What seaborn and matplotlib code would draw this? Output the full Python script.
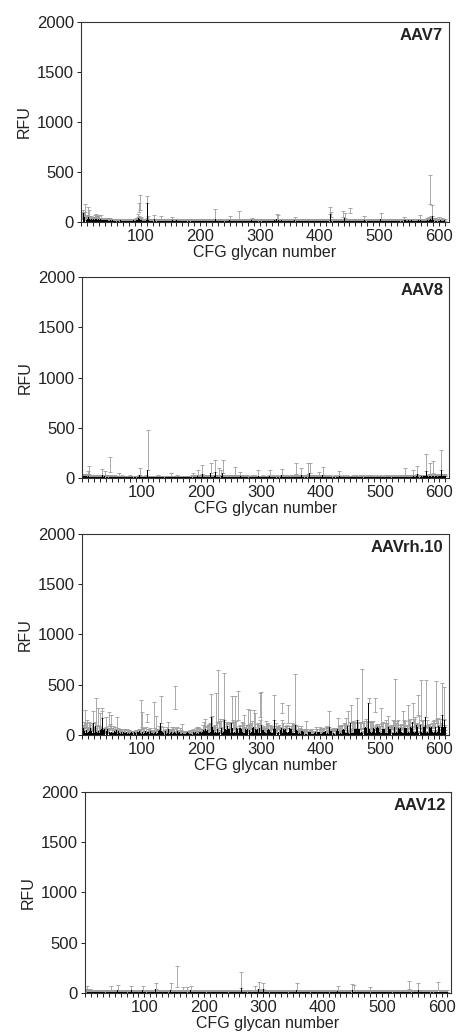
import numpy as np
import pandas as pd
import seaborn as sns
import matplotlib.pyplot as plt
from matplotlib.ticker import MultipleLocator, FixedLocator

# --------------------------------------------------
# Data: mean RFU and SD for CFG glycans 1-610 (30 per line)
# --------------------------------------------------
aav7_mean = [
    35, 60, 45, 90, 40, 55, 70, 30, 25, 40, 35, 60, 50, 30, 25, 20, 35, 30, 25, 20, 30, 25, 20, 35, 40, 30, 25, 20, 30, 35,
    25, 20, 30, 25, 20, 15, 20, 25, 20, 15, 18, 12, 15, 20, 14, 10, 16, 12, 18, 14, 10, 12, 15, 11, 9, 14, 12, 10, 15, 12,
    10, 14, 12, 9, 11, 15, 12, 10, 8, 13, 11, 9, 12, 14, 10, 8, 11, 13, 9, 12, 10, 14, 11, 9, 12, 10, 13, 15, 11, 9,
    12, 15, 18, 20, 25, 40, 100, 30, 120, 25, 20, 15, 12, 14, 10, 12, 15, 11, 13, 20, 190, 30, 15, 12, 10, 13, 11, 9, 12, 10,
    11, 13, 30, 10, 12, 9, 14, 11, 10, 12, 9, 13, 11, 25, 10, 12, 14, 9, 11, 13, 10, 8, 12, 11, 9, 13, 10, 12, 14, 11,
    10, 12, 20, 14, 11, 9, 13, 10, 12, 15, 11, 9, 10, 13, 12, 8, 11, 14, 10, 12, 9, 11, 13, 10, 8, 12, 11, 9, 13, 10,
    12, 9, 11, 14, 10, 13, 8, 12, 11, 10, 9, 13, 12, 10, 11, 14, 9, 12, 10, 13, 11, 8, 12, 10, 14, 11, 9, 13, 10, 12,
    11, 10, 13, 9, 12, 14, 10, 11, 12, 9, 13, 10, 11, 12, 30, 10, 9, 13, 11, 12, 10, 14, 9, 11, 13, 10, 12, 8, 11, 10,
    12, 9, 11, 13, 10, 12, 14, 9, 20, 11, 10, 13, 12, 9, 11, 10, 14, 12, 8, 11, 13, 10, 12, 9, 30, 11, 10, 12, 13, 9,
    11, 10, 12, 9, 13, 11, 10, 12, 14, 9, 11, 13, 10, 12, 9, 15, 11, 10, 13, 12, 9, 11, 14, 10, 12, 11, 9, 13, 10, 12,
    13, 11, 10, 12, 14, 9, 11, 13, 10, 12, 11, 9, 14, 12, 10, 13, 11, 12, 9, 15, 12, 14, 11, 16, 13, 12, 15, 30, 14, 12,
    25, 13, 14, 11, 12, 15, 10, 13, 12, 11, 14, 10, 12, 13, 11, 9, 12, 14, 10, 11, 13, 12, 10, 11, 14, 12, 10, 20, 11, 13,
    10, 12, 11, 13, 9, 12, 10, 14, 11, 12, 10, 13, 9, 11, 12, 10, 14, 11, 9, 12, 13, 10, 11, 12, 9, 14, 10, 12, 11, 13,
    11, 9, 12, 10, 13, 11, 12, 10, 14, 9, 11, 13, 10, 12, 11, 9, 13, 12, 10, 11, 14, 10, 12, 9, 11, 13, 12, 80, 50, 12,
    15, 12, 10, 13, 11, 14, 12, 10, 11, 13, 9, 12, 10, 14, 11, 12, 13, 10, 50, 12, 11, 40, 13, 10, 12, 11, 14, 9, 12, 10,
    90, 12, 10, 13, 11, 9, 12, 14, 10, 11, 13, 12, 9, 11, 10, 14, 12, 11, 13, 10, 12, 9, 11, 13, 20, 12, 10, 14, 11, 12,
    10, 13, 11, 12, 9, 14, 11, 10, 12, 13, 11, 10, 12, 14, 9, 11, 13, 10, 12, 11, 14, 30, 12, 10, 11, 13, 12, 9, 11, 14,
    12, 10, 13, 11, 9, 12, 14, 10, 11, 13, 12, 10, 11, 14, 12, 9, 13, 11, 10, 12, 14, 11, 13, 10, 12, 15, 11, 13, 12, 14,
    13, 20, 12, 15, 11, 14, 13, 12, 16, 11, 14, 12, 13, 15, 12, 11, 14, 13, 12, 15, 11, 14, 16, 12, 13, 15, 12, 14, 25, 13,
    14, 12, 15, 13, 16, 12, 14, 15, 13, 18, 15, 14, 20, 25, 180, 30, 18, 15, 60, 20, 16, 14, 15, 13, 17, 14, 12, 15, 13, 20,
    14, 12, 15, 13, 15, 12, 14, 13, 15, 12,
]
aav7_sd = [
    30, 40, 35, 30, 60, 50, 110, 40, 30, 35, 30, 90, 70, 30, 25, 20, 30, 25, 20, 20, 25, 30, 20, 40, 45, 30, 25, 20, 30, 35,
    20, 25, 40, 20, 20, 15, 20, 20, 15, 15, 20, 15, 18, 22, 15, 12, 20, 15, 22, 16, 12, 15, 18, 12, 10, 16, 14, 12, 18, 14,
    12, 16, 14, 10, 12, 18, 14, 12, 10, 15, 12, 10, 14, 16, 12, 10, 13, 15, 10, 14, 12, 16, 13, 10, 14, 12, 15, 18, 13, 10,
    14, 18, 20, 22, 25, 40, 90, 30, 150, 30, 25, 18, 14, 16, 12, 14, 18, 13, 15, 22, 70, 30, 18, 14, 12, 15, 13, 10, 14, 12,
    13, 15, 40, 12, 14, 10, 16, 13, 12, 14, 10, 15, 13, 35, 12, 14, 16, 10, 13, 15, 12, 10, 14, 13, 10, 15, 12, 14, 16, 13,
    12, 14, 30, 16, 13, 10, 15, 12, 14, 17, 13, 10, 12, 15, 14, 10, 13, 16, 12, 14, 10, 13, 15, 12, 10, 14, 13, 10, 15, 12,
    14, 10, 13, 16, 12, 15, 10, 14, 13, 12, 10, 15, 14, 12, 13, 16, 10, 14, 12, 15, 13, 10, 14, 12, 16, 13, 10, 15, 12, 14,
    13, 12, 15, 10, 14, 16, 12, 13, 14, 10, 15, 12, 13, 14, 97, 12, 10, 15, 13, 14, 12, 16, 10, 13, 15, 12, 14, 10, 13, 12,
    14, 10, 13, 15, 12, 14, 16, 10, 40, 13, 12, 15, 14, 10, 13, 12, 16, 14, 10, 13, 15, 12, 14, 10, 80, 13, 12, 14, 15, 10,
    13, 12, 14, 10, 15, 13, 12, 14, 16, 10, 13, 15, 12, 14, 10, 25, 13, 12, 15, 14, 10, 13, 16, 12, 14, 13, 10, 15, 12, 14,
    15, 13, 12, 14, 16, 10, 13, 15, 12, 14, 13, 10, 16, 14, 12, 15, 13, 14, 10, 17, 14, 16, 13, 18, 15, 14, 17, 47, 16, 14,
    45, 15, 16, 13, 14, 17, 12, 15, 14, 13, 16, 12, 14, 15, 13, 10, 14, 16, 12, 13, 15, 14, 12, 13, 16, 14, 12, 33, 13, 15,
    12, 14, 13, 15, 10, 14, 12, 16, 13, 14, 12, 15, 10, 13, 14, 12, 16, 13, 10, 14, 15, 12, 13, 14, 10, 16, 12, 14, 13, 15,
    13, 10, 14, 12, 15, 13, 14, 12, 16, 10, 13, 15, 12, 14, 13, 10, 15, 14, 12, 13, 16, 12, 14, 10, 13, 15, 14, 67, 53, 14,
    17, 14, 12, 15, 13, 16, 14, 12, 13, 15, 10, 14, 12, 16, 13, 14, 15, 12, 60, 14, 13, 47, 15, 12, 14, 13, 16, 10, 14, 12,
    47, 14, 12, 15, 13, 10, 14, 16, 12, 13, 15, 14, 10, 13, 12, 16, 14, 13, 15, 12, 14, 10, 13, 15, 40, 14, 12, 16, 13, 14,
    12, 15, 13, 14, 10, 16, 13, 12, 14, 15, 13, 12, 14, 16, 10, 13, 15, 12, 14, 13, 16, 63, 14, 12, 13, 15, 14, 10, 13, 16,
    14, 12, 15, 13, 10, 14, 16, 12, 13, 15, 14, 12, 13, 16, 14, 10, 15, 13, 12, 14, 16, 13, 15, 12, 14, 17, 13, 15, 14, 16,
    15, 33, 14, 17, 13, 16, 15, 14, 18, 13, 16, 14, 15, 17, 14, 13, 16, 15, 14, 17, 13, 16, 18, 14, 15, 17, 14, 16, 45, 15,
    16, 14, 17, 15, 18, 14, 16, 17, 15, 20, 17, 16, 22, 25, 290, 30, 20, 17, 110, 22, 18, 16, 17, 15, 19, 16, 14, 17, 15, 30,
    16, 14, 17, 15, 25, 14, 16, 15, 17, 14,
]

aav8_mean = [
    18, 15, 20, 16, 14, 18, 15, 17, 14, 25, 16, 40, 15, 13, 16, 14, 12, 15, 13, 14, 12, 15, 11, 13, 14, 12, 10, 13, 12, 11,
    12, 14, 11, 30, 13, 12, 14, 25, 12, 11, 13, 10, 12, 14, 11, 13, 60, 12, 10, 13, 11, 12, 9, 11, 13, 10, 12, 11, 9, 12,
    10, 15, 9, 11, 12, 10, 13, 9, 11, 10, 12, 8, 11, 10, 9, 12, 10, 11, 9, 13, 10, 8, 11, 12, 9, 10, 11, 9, 12, 10,
    11, 9, 12, 10, 11, 13, 30, 10, 9, 12, 11, 10, 12, 9, 11, 10, 13, 11, 12, 80, 12, 10, 9, 11, 12, 10, 9, 11, 10, 12,
    9, 11, 10, 12, 9, 11, 10, 13, 9, 10, 12, 11, 9, 10, 12, 11, 10, 9, 12, 10, 11, 9, 10, 12, 11, 9, 10, 11, 15, 10,
    10, 12, 9, 11, 10, 12, 9, 11, 10, 13, 11, 9, 10, 12, 11, 10, 9, 12, 10, 11, 12, 9, 11, 10, 12, 10, 11, 9, 12, 11,
    10, 12, 11, 13, 12, 20, 11, 13, 12, 10, 14, 12, 11, 25, 13, 12, 14, 11, 13, 12, 14, 40, 13, 12, 15, 13, 12, 14, 11, 13,
    13, 12, 15, 14, 12, 50, 14, 13, 15, 12, 14, 16, 13, 60, 15, 14, 13, 16, 14, 30, 15, 13, 25, 16, 14, 50, 15, 13, 14, 12,
    14, 13, 15, 12, 14, 13, 16, 12, 14, 13, 15, 14, 12, 13, 15, 14, 30, 13, 12, 14, 13, 15, 12, 14, 13, 20, 12, 14, 13, 12,
    11, 13, 12, 10, 12, 11, 13, 10, 12, 11, 9, 12, 11, 10, 13, 11, 12, 10, 11, 13, 10, 12, 11, 10, 12, 25, 11, 12, 10, 11,
    12, 10, 11, 13, 10, 12, 11, 9, 12, 11, 10, 12, 11, 13, 25, 11, 10, 12, 11, 13, 10, 12, 11, 10, 12, 11, 13, 10, 11, 12,
    11, 12, 10, 13, 30, 12, 11, 13, 12, 10, 11, 13, 12, 11, 10, 12, 13, 11, 12, 10, 13, 12, 11, 12, 13, 11, 12, 13, 40, 12,
    13, 12, 11, 13, 12, 14, 13, 30, 12, 13, 11, 14, 12, 13, 12, 14, 13, 12, 40, 13, 14, 50, 13, 12, 14, 13, 12, 11, 13, 12,
    12, 11, 13, 12, 11, 13, 12, 20, 11, 12, 13, 11, 12, 35, 12, 11, 13, 12, 10, 12, 11, 13, 12, 10, 11, 12, 13, 11, 10, 12,
    11, 12, 10, 11, 13, 12, 10, 11, 12, 11, 13, 20, 11, 12, 10, 12, 11, 13, 10, 12, 11, 10, 12, 11, 13, 10, 12, 11, 10, 12,
    11, 10, 12, 11, 13, 10, 12, 11, 10, 13, 12, 11, 10, 12, 11, 13, 12, 10, 11, 12, 10, 13, 11, 12, 10, 11, 12, 13, 10, 11,
    12, 11, 10, 13, 11, 12, 10, 11, 13, 12, 11, 10, 12, 11, 13, 10, 12, 11, 12, 10, 11, 13, 12, 10, 11, 12, 10, 13, 11, 12,
    11, 12, 10, 13, 12, 11, 10, 12, 13, 11, 12, 10, 11, 13, 12, 11, 12, 10, 13, 12, 11, 12, 13, 11, 12, 14, 12, 13, 12, 14,
    13, 30, 12, 14, 13, 15, 12, 14, 13, 15, 14, 12, 15, 13, 14, 25, 13, 15, 14, 13, 16, 14, 40, 15, 13, 16, 14, 15, 13, 16,
    15, 14, 16, 15, 17, 14, 16, 70, 15, 17, 16, 14, 18, 40, 16, 17, 15, 18, 50, 16, 17, 15, 18, 16, 19, 17, 15, 18, 16, 17,
    18, 16, 80, 17, 19, 16, 18, 17, 20, 16,
]
aav8_sd = [
    20, 18, 22, 18, 15, 20, 17, 18, 16, 48, 18, 83, 16, 14, 17, 15, 13, 16, 14, 15, 13, 16, 12, 14, 15, 13, 11, 14, 13, 12,
    13, 15, 12, 60, 14, 13, 15, 48, 13, 12, 14, 11, 13, 15, 12, 14, 153, 13, 11, 14, 12, 13, 10, 12, 14, 11, 13, 12, 10, 13,
    11, 32, 10, 12, 13, 11, 14, 10, 12, 11, 13, 9, 12, 11, 10, 13, 11, 12, 10, 14, 11, 9, 12, 13, 10, 11, 12, 10, 13, 11,
    12, 10, 13, 11, 12, 14, 67, 11, 10, 13, 12, 11, 13, 10, 12, 11, 14, 12, 13, 400, 13, 11, 10, 12, 13, 11, 10, 12, 11, 13,
    10, 12, 11, 13, 10, 12, 11, 14, 10, 11, 13, 12, 10, 11, 13, 12, 11, 10, 13, 11, 12, 10, 11, 13, 12, 10, 11, 12, 32, 11,
    11, 13, 10, 12, 11, 13, 10, 12, 11, 14, 12, 10, 11, 13, 12, 11, 10, 13, 11, 12, 13, 10, 12, 11, 13, 11, 12, 10, 13, 12,
    11, 13, 12, 14, 13, 33, 12, 14, 13, 11, 15, 13, 12, 55, 14, 13, 15, 12, 14, 13, 15, 90, 14, 13, 16, 14, 13, 15, 12, 14,
    14, 13, 16, 15, 13, 97, 15, 14, 16, 13, 15, 17, 14, 120, 16, 15, 14, 17, 15, 67, 16, 14, 55, 17, 15, 130, 16, 14, 15, 13,
    15, 14, 16, 13, 15, 14, 17, 13, 15, 14, 16, 15, 13, 14, 16, 15, 83, 14, 13, 15, 14, 16, 13, 15, 14, 43, 13, 15, 14, 13,
    12, 14, 13, 11, 13, 12, 14, 11, 13, 12, 10, 13, 12, 11, 14, 12, 13, 11, 12, 14, 11, 13, 12, 11, 13, 55, 12, 13, 11, 12,
    13, 11, 12, 14, 11, 13, 12, 10, 13, 12, 11, 13, 12, 14, 55, 12, 11, 13, 12, 14, 11, 13, 12, 11, 13, 12, 14, 11, 12, 13,
    12, 13, 11, 14, 57, 13, 12, 14, 13, 11, 12, 14, 13, 12, 11, 13, 14, 12, 13, 11, 14, 13, 12, 13, 14, 12, 13, 14, 107, 13,
    14, 13, 12, 14, 13, 15, 14, 67, 13, 14, 12, 15, 13, 14, 13, 15, 14, 13, 107, 14, 15, 103, 14, 13, 15, 14, 13, 12, 14, 13,
    13, 12, 14, 13, 12, 14, 13, 43, 12, 13, 14, 12, 13, 72, 13, 12, 14, 13, 11, 13, 12, 14, 13, 11, 12, 13, 14, 12, 11, 13,
    12, 13, 11, 12, 14, 13, 11, 12, 13, 12, 14, 53, 12, 13, 11, 13, 12, 14, 11, 13, 12, 11, 13, 12, 14, 11, 13, 12, 11, 13,
    12, 11, 13, 12, 14, 11, 13, 12, 11, 14, 13, 12, 11, 13, 12, 14, 13, 11, 12, 13, 11, 14, 12, 13, 11, 12, 13, 14, 11, 12,
    13, 12, 11, 14, 12, 13, 11, 12, 14, 13, 12, 11, 13, 12, 14, 11, 13, 12, 13, 11, 12, 14, 13, 11, 12, 13, 11, 14, 12, 13,
    12, 13, 11, 14, 13, 12, 11, 13, 14, 12, 13, 11, 12, 14, 13, 12, 13, 11, 14, 13, 12, 13, 14, 12, 13, 15, 13, 14, 13, 15,
    14, 67, 13, 15, 14, 16, 13, 15, 14, 16, 15, 13, 16, 14, 15, 55, 14, 16, 15, 14, 17, 15, 80, 16, 14, 17, 15, 16, 14, 17,
    16, 15, 17, 16, 18, 15, 17, 170, 16, 18, 17, 15, 19, 107, 17, 18, 16, 19, 123, 17, 18, 16, 19, 17, 20, 18, 16, 19, 17, 18,
    19, 17, 200, 18, 20, 17, 19, 18, 21, 17,
]

aavrh10_mean = [
    60, 25, 70, 35, 80, 15, 65, 50, 20, 60, 30, 55, 40, 70, 15, 35, 60, 20, 120, 55, 15, 65, 90, 30, 45, 20, 100, 40, 15, 70,
    45, 20, 60, 167, 15, 50, 25, 60, 15, 80, 40, 15, 55, 20, 90, 25, 60, 15, 70, 30, 15, 45, 20, 10, 40, 25, 15, 50, 20, 10,
    35, 10, 20, 30, 8, 25, 20, 10, 15, 25, 20, 8, 22, 10, 25, 12, 8, 20, 30, 10, 22, 8, 25, 12, 20, 10, 15, 25, 10, 18,
    22, 10, 25, 8, 30, 15, 35, 20, 60, 10, 80, 25, 10, 35, 15, 8, 40, 15, 133, 25, 10, 30, 12, 25, 35, 10, 22, 15, 25, 10,
    70, 15, 25, 60, 10, 40, 15, 35, 10, 45, 20, 117, 40, 10, 25, 35, 15, 30, 10, 40, 20, 10, 35, 15, 60, 25, 10, 30, 15, 30,
    35, 10, 40, 15, 25, 257, 20, 30, 10, 35, 15, 20, 8, 30, 12, 25, 10, 40, 15, 8, 22, 10, 25, 8, 22, 12, 25, 8, 18, 10,
    20, 8, 25, 10, 22, 12, 25, 8, 22, 15, 30, 10, 30, 15, 35, 10, 30, 15, 28, 40, 15, 30, 45, 50, 15, 35, 60, 20, 40, 15,
    45, 20, 50, 15, 55, 30, 183, 20, 80, 25, 45, 15, 55, 30, 100, 15, 60, 120, 20, 70, 25, 80, 15, 65, 30, 20, 80, 25, 150, 30,
    60, 20, 50, 90, 15, 55, 30, 60, 20, 55, 120, 25, 70, 15, 60, 30, 80, 15, 65, 25, 55, 150, 20, 70, 30, 65, 15, 60, 25, 55,
    20, 60, 15, 55, 25, 50, 15, 60, 100, 20, 50, 60, 15, 55, 25, 65, 15, 80, 30, 15, 60, 25, 50, 15, 55, 20, 60, 70, 180, 20,
    100, 25, 50, 15, 45, 25, 50, 15, 65, 20, 50, 25, 55, 15, 50, 30, 55, 15, 60, 20, 55, 25, 150, 15, 55, 20, 60, 15, 55, 25,
    55, 15, 50, 25, 70, 217, 20, 55, 30, 50, 15, 60, 25, 70, 15, 120, 25, 65, 15, 60, 20, 55, 15, 60, 20, 50, 15, 100, 20, 50,
    15, 40, 10, 45, 15, 30, 10, 40, 15, 35, 10, 30, 15, 25, 10, 40, 12, 25, 10, 30, 12, 25, 10, 25, 12, 28, 10, 25, 12, 20,
    10, 28, 30, 10, 25, 12, 28, 10, 30, 12, 30, 10, 28, 15, 25, 10, 30, 15, 35, 10, 40, 15, 30, 10, 80, 15, 35, 10, 40, 15,
    40, 15, 35, 10, 50, 15, 40, 10, 60, 15, 40, 10, 45, 15, 40, 10, 45, 15, 55, 10, 50, 15, 70, 15, 45, 90, 15, 45, 10, 60,
    120, 15, 60, 20, 65, 15, 60, 25, 55, 15, 60, 150, 20, 60, 25, 55, 15, 60, 25, 120, 15, 55, 30, 65, 15, 75, 20, 65, 15, 60,
    317, 20, 60, 25, 65, 15, 60, 30, 65, 15, 60, 230, 20, 70, 15, 75, 20, 65, 30, 55, 15, 90, 20, 55, 25, 60, 15, 55, 20, 70,
    15, 55, 20, 80, 25, 55, 15, 60, 25, 55, 15, 70, 20, 65, 80, 15, 55, 25, 65, 15, 70, 25, 60, 15, 70, 25, 60, 15, 70, 20,
    70, 20, 65, 30, 70, 15, 100, 25, 70, 15, 75, 30, 70, 20, 130, 25, 75, 15, 85, 30, 95, 15, 80, 200, 20, 90, 30, 95, 150, 25,
    70, 15, 75, 25, 80, 20, 180, 15, 75, 30, 80, 15, 75, 25, 70, 15, 80, 30, 70, 15, 75, 25, 80, 120, 15, 80, 25, 85, 20, 80,
    75, 20, 80, 25, 200, 15, 80, 150, 20, 80,
]
aavrh10_sd = [
    40, 25, 60, 35, 164, 20, 55, 100, 30, 15, 45, 70, 80, 25, 40, 10, 55, 30, 114, 20, 45, 60, 277, 15, 40, 25, 167, 50, 20, 150,
    30, 15, 207, 67, 40, 20, 45, 10, 40, 100, 25, 50, 15, 45, 134, 20, 50, 10, 130, 40, 15, 40, 25, 10, 40, 35, 15, 127, 25, 10,
    35, 10, 25, 30, 15, 35, 37, 10, 20, 35, 37, 15, 25, 10, 37, 20, 8, 30, 15, 28, 10, 25, 18, 30, 8, 20, 25, 10, 30, 15,
    28, 10, 25, 15, 28, 35, 10, 40, 284, 15, 147, 40, 10, 35, 20, 8, 40, 15, 74, 35, 10, 25, 28, 10, 35, 20, 8, 30, 15, 35,
    254, 20, 10, 130, 35, 15, 30, 10, 35, 45, 20, 273, 45, 15, 10, 40, 25, 15, 30, 10, 35, 20, 40, 15, 73, 10, 30, 15, 40, 20,
    40, 15, 40, 10, 30, 233, 20, 35, 10, 40, 15, 30, 10, 35, 20, 10, 35, 70, 15, 28, 10, 25, 15, 28, 10, 25, 15, 28, 10, 30,
    10, 37, 20, 10, 30, 15, 30, 10, 28, 20, 35, 10, 53, 20, 40, 10, 35, 20, 32, 15, 40, 20, 50, 83, 25, 40, 97, 20, 45, 15,
    50, 20, 55, 15, 60, 30, 221, 15, 110, 35, 20, 70, 25, 65, 317, 15, 65, 530, 30, 70, 20, 80, 25, 70, 35, 15, 80, 30, 470, 20,
    65, 25, 55, 40, 15, 60, 35, 65, 20, 60, 270, 25, 75, 15, 65, 40, 303, 20, 70, 30, 15, 283, 40, 20, 60, 35, 15, 65, 25, 60,
    20, 140, 50, 25, 70, 15, 50, 30, 160, 20, 55, 190, 15, 60, 30, 70, 20, 170, 40, 15, 157, 35, 55, 20, 60, 15, 40, 75, 237, 25,
    324, 30, 15, 60, 25, 65, 15, 40, 70, 20, 55, 25, 60, 15, 35, 70, 20, 55, 25, 50, 15, 65, 250, 20, 60, 30, 15, 55, 35, 70,
    25, 65, 15, 40, 75, 100, 20, 60, 35, 15, 70, 25, 60, 30, 15, 180, 40, 20, 55, 30, 15, 60, 25, 40, 15, 55, 30, 510, 20, 45,
    15, 45, 25, 10, 45, 35, 15, 45, 20, 10, 45, 25, 40, 10, 35, 103, 15, 30, 20, 10, 30, 25, 15, 30, 10, 32, 20, 10, 28, 15,
    10, 32, 53, 15, 30, 10, 32, 20, 53, 10, 35, 15, 32, 10, 30, 20, 35, 10, 40, 15, 45, 20, 35, 10, 154, 45, 15, 50, 20, 40,
    15, 50, 20, 45, 10, 50, 25, 40, 107, 15, 45, 20, 50, 10, 45, 25, 50, 15, 60, 20, 55, 15, 97, 30, 50, 144, 20, 50, 15, 65,
    180, 20, 65, 30, 70, 15, 65, 40, 60, 20, 65, 217, 25, 65, 35, 60, 15, 65, 40, 540, 20, 60, 35, 70, 15, 80, 30, 70, 20, 65,
    50, 30, 65, 15, 70, 40, 65, 20, 70, 35, 15, 137, 70, 25, 60, 35, 65, 15, 75, 30, 70, 177, 20, 60, 35, 65, 15, 60, 30, 75,
    25, 60, 15, 110, 65, 30, 75, 20, 70, 40, 15, 75, 30, 70, 480, 20, 60, 35, 70, 15, 75, 40, 20, 80, 35, 70, 15, 80, 164, 30,
    75, 25, 70, 40, 15, 80, 200, 30, 75, 20, 80, 45, 15, 95, 187, 30, 80, 20, 90, 40, 15, 90, 35, 200, 20, 95, 40, 15, 400, 30,
    70, 20, 75, 35, 15, 70, 370, 25, 75, 40, 15, 65, 30, 80, 20, 65, 35, 15, 70, 30, 75, 20, 40, 420, 25, 80, 15, 85, 35, 20,
    80, 25, 40, 70, 320, 15, 80, 330, 30, 20,
]

aav12_mean = [
    15, 12, 30, 14, 11, 13, 10, 12, 14, 11, 13, 10, 12, 9, 11, 13, 10, 12, 11, 9, 12, 10, 13, 11, 9, 12, 10, 11, 13, 10,
    12, 10, 11, 13, 9, 12, 10, 11, 13, 10, 12, 11, 9, 25, 12, 10, 13, 11, 12, 10, 11, 13, 10, 12, 30, 11, 10, 12, 9, 11,
    10, 12, 11, 9, 13, 10, 12, 11, 10, 13, 9, 11, 12, 10, 13, 11, 10, 25, 12, 11, 9, 13, 10, 12, 11, 10, 13, 9, 12, 11,
    12, 10, 11, 13, 9, 12, 25, 11, 10, 13, 12, 10, 11, 9, 13, 12, 10, 11, 12, 9, 13, 11, 10, 12, 11, 13, 10, 12, 35, 11,
    10, 12, 11, 13, 10, 12, 9, 11, 13, 10, 12, 11, 10, 13, 9, 12, 11, 10, 13, 12, 10, 11, 12, 30, 11, 10, 13, 12, 10, 11,
    12, 10, 13, 11, 60, 12, 10, 11, 13, 12, 10, 11, 13, 12, 20, 11, 13, 10, 12, 11, 13, 20, 12, 10, 13, 11, 12, 25, 10, 12,
    11, 10, 12, 9, 11, 10, 12, 11, 9, 10, 12, 11, 10, 9, 12, 11, 10, 12, 9, 11, 10, 12, 11, 9, 10, 12, 11, 10, 12, 9,
    11, 10, 12, 11, 9, 10, 12, 11, 10, 9, 11, 12, 10, 11, 9, 12, 10, 11, 12, 9, 10, 11, 12, 10, 9, 11, 10, 12, 11, 10,
    12, 11, 10, 9, 12, 11, 10, 12, 11, 9, 10, 12, 11, 10, 12, 11, 9, 12, 10, 11, 12, 10, 50, 11, 12, 10, 13, 11, 12, 10,
    13, 11, 12, 14, 10, 12, 13, 11, 14, 12, 13, 11, 14, 12, 13, 20, 12, 14, 11, 13, 12, 40, 13, 11, 14, 12, 13, 11, 12, 35,
    13, 12, 14, 11, 13, 12, 10, 14, 12, 13, 11, 12, 14, 10, 13, 12, 11, 14, 12, 13, 11, 12, 10, 13, 14, 12, 11, 13, 12, 10,
    12, 14, 11, 13, 12, 10, 13, 12, 14, 11, 12, 13, 10, 12, 14, 11, 13, 12, 10, 13, 12, 11, 14, 12, 13, 30, 12, 11, 13, 12,
    11, 13, 12, 10, 14, 12, 11, 13, 12, 10, 12, 14, 11, 13, 12, 10, 13, 12, 11, 14, 12, 13, 10, 12, 11, 13, 12, 14, 11, 12,
    13, 11, 12, 14, 10, 12, 13, 11, 12, 14, 11, 13, 12, 10, 13, 12, 14, 11, 12, 13, 10, 12, 14, 11, 13, 12, 11, 13, 12, 10,
    12, 13, 11, 14, 20, 12, 13, 11, 14, 12, 13, 10, 12, 14, 11, 13, 12, 14, 11, 13, 12, 10, 13, 14, 12, 11, 13, 12, 14, 30,
    13, 12, 25, 14, 12, 11, 13, 12, 14, 11, 13, 12, 10, 13, 12, 14, 11, 13, 12, 10, 12, 14, 11, 13, 12, 10, 13, 12, 11, 20,
    12, 13, 11, 14, 12, 10, 13, 12, 11, 14, 12, 13, 10, 12, 14, 11, 13, 12, 10, 13, 12, 11, 14, 12, 13, 11, 12, 14, 10, 12,
    13, 11, 12, 14, 10, 12, 13, 11, 14, 12, 13, 10, 12, 14, 11, 13, 12, 11, 14, 12, 13, 11, 12, 14, 12, 13, 11, 14, 12, 13,
    12, 14, 13, 11, 40, 13, 12, 14, 11, 13, 12, 14, 13, 11, 12, 14, 13, 12, 11, 14, 30, 12, 13, 14, 11, 13, 12, 14, 13, 12,
    14, 12, 13, 11, 14, 13, 12, 14, 13, 11, 12, 14, 13, 12, 14, 11, 13, 12, 14, 13, 12, 11, 14, 30, 13, 12, 14, 13, 12, 14,
    13, 12, 14, 11, 13, 12, 14, 13, 12, 11,
]
aav12_sd = [
    25, 20, 40, 22, 18, 20, 16, 19, 22, 17, 20, 15, 18, 14, 17, 20, 15, 18, 17, 14, 18, 15, 20, 17, 14, 18, 15, 17, 20, 15,
    18, 15, 17, 20, 14, 18, 15, 17, 20, 15, 18, 17, 14, 48, 18, 15, 20, 17, 18, 15, 17, 20, 15, 18, 50, 17, 15, 18, 14, 17,
    15, 18, 17, 14, 20, 15, 18, 17, 15, 20, 14, 17, 18, 15, 20, 17, 15, 48, 18, 17, 14, 20, 15, 18, 17, 15, 20, 14, 18, 17,
    18, 15, 17, 20, 14, 18, 48, 17, 15, 20, 18, 15, 17, 14, 20, 18, 15, 17, 18, 14, 20, 17, 15, 18, 17, 20, 15, 18, 62, 17,
    15, 18, 17, 20, 15, 18, 14, 17, 20, 15, 18, 17, 15, 20, 14, 18, 17, 15, 20, 18, 15, 17, 18, 67, 17, 15, 20, 18, 15, 17,
    18, 15, 20, 17, 210, 18, 15, 17, 20, 18, 15, 17, 20, 18, 43, 17, 20, 15, 18, 17, 20, 43, 18, 15, 20, 17, 18, 40, 15, 18,
    14, 12, 15, 11, 14, 12, 15, 14, 11, 12, 15, 14, 12, 11, 15, 14, 12, 15, 11, 14, 12, 15, 14, 11, 12, 15, 14, 12, 15, 11,
    14, 12, 15, 14, 11, 12, 15, 14, 12, 11, 14, 15, 12, 14, 11, 15, 12, 14, 15, 11, 12, 14, 15, 12, 11, 14, 12, 15, 14, 12,
    15, 14, 12, 11, 15, 14, 12, 15, 14, 11, 12, 15, 14, 12, 15, 14, 11, 15, 12, 14, 15, 12, 157, 14, 15, 12, 17, 14, 15, 12,
    17, 14, 16, 19, 13, 16, 17, 14, 19, 16, 17, 14, 19, 16, 17, 50, 16, 19, 14, 17, 16, 73, 17, 14, 19, 16, 17, 14, 16, 68,
    17, 16, 19, 14, 17, 16, 13, 19, 16, 17, 14, 16, 19, 13, 17, 16, 14, 19, 16, 17, 14, 16, 13, 17, 19, 16, 14, 17, 16, 13,
    16, 19, 14, 17, 16, 13, 17, 16, 19, 14, 16, 17, 13, 16, 19, 14, 17, 16, 13, 17, 16, 14, 19, 16, 17, 67, 16, 14, 17, 16,
    14, 17, 16, 13, 19, 16, 14, 17, 16, 13, 16, 19, 14, 17, 16, 13, 17, 16, 14, 19, 16, 17, 13, 16, 14, 17, 16, 19, 14, 16,
    17, 14, 16, 19, 13, 16, 17, 14, 16, 19, 14, 17, 16, 13, 17, 16, 19, 14, 16, 17, 13, 16, 19, 14, 17, 16, 14, 17, 16, 13,
    16, 17, 14, 19, 50, 16, 17, 14, 19, 16, 17, 13, 16, 19, 14, 17, 16, 19, 14, 17, 16, 13, 17, 19, 16, 14, 17, 16, 19, 57,
    17, 16, 55, 19, 16, 14, 17, 16, 19, 14, 17, 16, 13, 17, 16, 19, 14, 17, 16, 13, 16, 19, 14, 17, 16, 13, 17, 16, 14, 43,
    16, 17, 14, 19, 16, 13, 17, 16, 14, 19, 16, 17, 13, 16, 19, 14, 17, 16, 13, 17, 16, 14, 19, 16, 17, 14, 16, 19, 13, 16,
    17, 14, 16, 19, 13, 16, 17, 14, 19, 16, 17, 13, 16, 19, 14, 17, 16, 14, 19, 16, 17, 14, 16, 19, 16, 17, 14, 19, 16, 17,
    16, 19, 17, 14, 83, 17, 16, 19, 14, 17, 16, 19, 17, 14, 16, 19, 17, 16, 14, 19, 67, 16, 17, 19, 14, 17, 16, 19, 17, 16,
    19, 16, 17, 14, 19, 17, 16, 19, 17, 14, 16, 19, 17, 16, 19, 14, 17, 16, 19, 17, 16, 14, 19, 77, 17, 16, 19, 17, 16, 19,
    17, 16, 19, 14, 17, 16, 19, 17, 16, 14,
]

panel_names = ["AAV7", "AAV8", "AAVrh.10", "AAV12"]
panel_means = [aav7_mean, aav8_mean, aavrh10_mean, aav12_mean]
panel_sds = [aav7_sd, aav8_sd, aavrh10_sd, aav12_sd]

y_ticks = [0, 500, 1000, 1500, 2000]
x_ticks = [100, 200, 300, 400, 500, 600]

# --------------------------------------------------
# Style
# --------------------------------------------------
sns.set_style("ticks")
plt.rcParams["font.family"] = ["Liberation Sans", "DejaVu Sans"]
plt.rcParams["text.color"] = "#222222"
plt.rcParams["axes.labelcolor"] = "#222222"
plt.rcParams["xtick.color"] = "#222222"
plt.rcParams["ytick.color"] = "#222222"

fig = plt.figure(figsize=(4.59, 10.34), dpi=100)

# axes rectangles (left, bottom, width, height) in figure fractions
rects = [
    [0.1765, 0.7853, 0.8007, 0.1934],
    [0.1786, 0.5377, 0.7996, 0.1944],
    [0.1786, 0.2892, 0.7996, 0.1944],
    [0.1852, 0.0397, 0.7974, 0.1944],
]

for name, mean, sd, rect in zip(panel_names, panel_means, panel_sds, rects):
    n = min(len(mean), len(sd))
    glycan = np.arange(1, n + 1)
    df = pd.DataFrame({"glycan": glycan, "rfu": mean[:n], "sd": sd[:n]})

    ax = fig.add_axes(rect)

    # upper error bars only (grey), then the mean bars (black)
    ax.errorbar(
        df["glycan"], df["rfu"],
        yerr=[np.zeros(n), df["sd"]],
        fmt="none", ecolor="#9c9c9c", elinewidth=0.6,
        capsize=1.6, capthick=0.6, zorder=1,
    )
    sns.barplot(
        data=df, x="glycan", y="rfu",
        native_scale=True, color="black", saturation=1,
        width=0.95, linewidth=0, errorbar=None, ax=ax, zorder=2,
    )

    ax.set_xlim(0, 616)
    ax.set_ylim(0, 2000)
    ax.xaxis.set_major_locator(FixedLocator(x_ticks))
    ax.xaxis.set_minor_locator(MultipleLocator(10))
    ax.yaxis.set_major_locator(FixedLocator(y_ticks))
    ax.tick_params(axis="both", which="major", length=3, width=0.7, pad=2, labelsize=12)
    ax.tick_params(axis="x", which="minor", length=3, width=0.7)

    for side in ["left", "right", "top", "bottom"]:
        ax.spines[side].set_visible(True)
        ax.spines[side].set_linewidth(0.8)
        ax.spines[side].set_color("#333333")

    ax.set_xlabel("CFG glycan number", fontsize=11.5, labelpad=1)
    ax.set_ylabel("RFU", fontsize=11.5, labelpad=4)
    ax.text(0.985, 0.935, name, transform=ax.transAxes, ha="right", va="center",
            fontsize=12, fontweight="bold")

fig.savefig("out.png", dpi=100)
plt.close(fig)
